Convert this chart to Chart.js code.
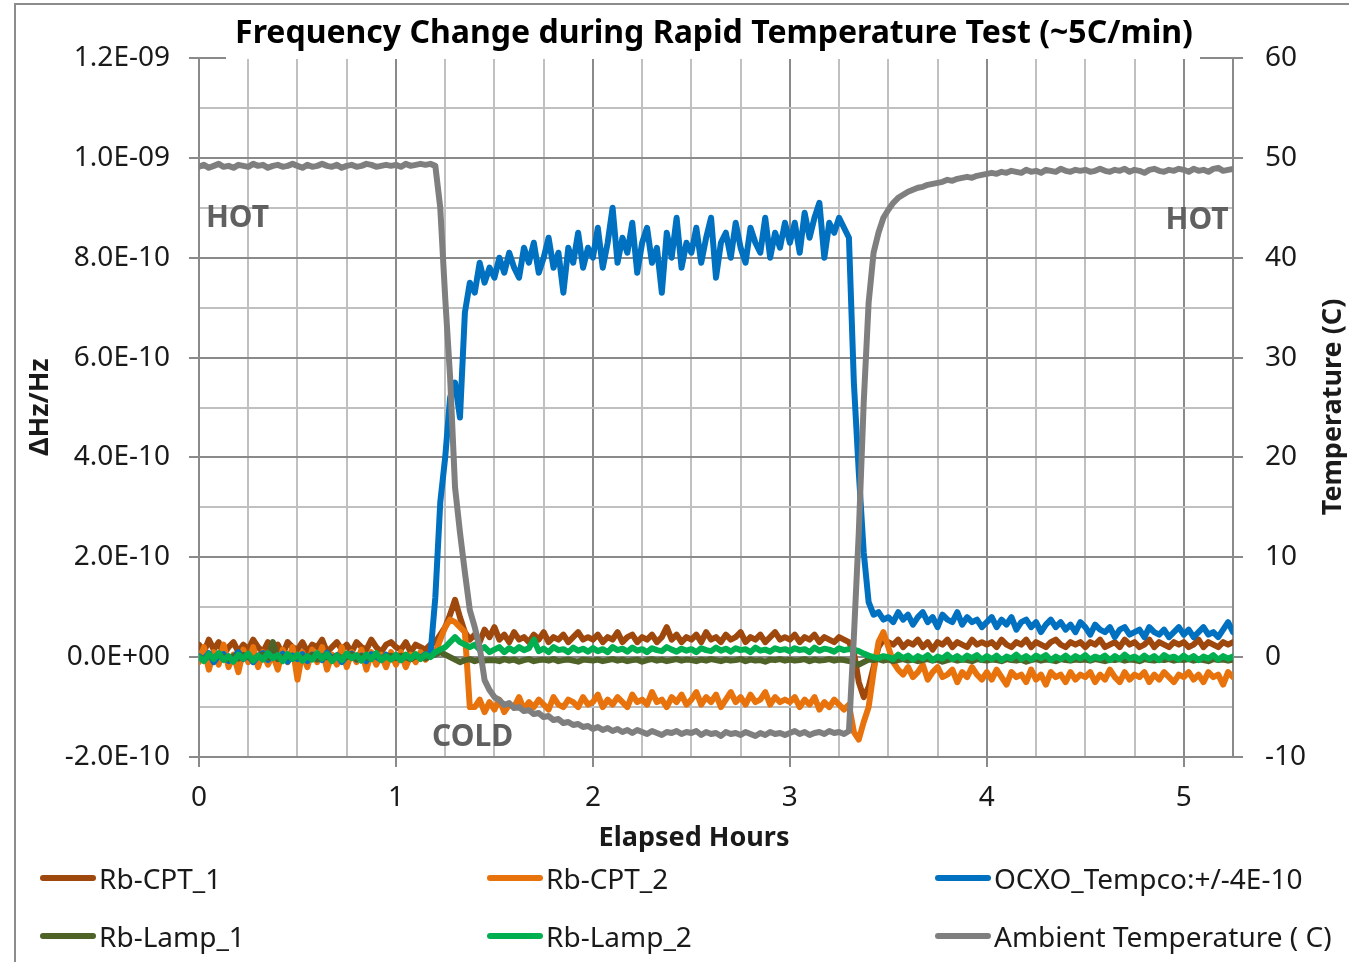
<!DOCTYPE html>
<html>
<head>
<meta charset="utf-8">
<title>Frequency Change during Rapid Temperature Test</title>
<script src="https://cdn.jsdelivr.net/npm/chart.js@4.4.1/dist/chart.umd.min.js"></script>
<style>
    body { margin: 0; background: #fff; }
    #wrap { position: relative; width: 1349px; height: 962px; overflow: hidden; }
    #legend {
        position: absolute; left: 40px; top: 849px;
        display: grid; grid-template-columns: 447px 448px auto;
        font-family: 'Noto Sans', sans-serif; font-size: 28px; color: #1a1a1a;
    }
    .legend-item { display: flex; align-items: center; height: 58px; white-space: nowrap; }
    .legend-line { display: inline-block; width: 56px; height: 6px; border-radius: 3px; margin-right: 3px; }
</style>
</head>
<body>
<div id="wrap">
    <canvas id="chart" width="1349" height="962"></canvas>
    <div id="legend"></div>
</div>
<script>
// elapsed time in hours (one reading every 1.5 min)
const hours = [
    0,0.025,0.05,0.075,0.1,0.125,0.15,0.175,0.2,0.225,0.25,0.275,0.3,0.325,0.35,0.375,0.4,0.425,0.45,0.475,
    0.5,0.525,0.55,0.575,0.6,0.625,0.65,0.675,0.7,0.725,0.75,0.775,0.8,0.825,0.85,0.875,0.9,0.925,0.95,0.975,
    1,1.025,1.05,1.075,1.1,1.125,1.15,1.175,1.2,1.225,1.25,1.275,1.3,1.325,1.35,1.375,1.4,1.425,1.45,1.475,
    1.5,1.525,1.55,1.575,1.6,1.625,1.65,1.675,1.7,1.725,1.75,1.775,1.8,1.825,1.85,1.875,1.9,1.925,1.95,1.975,
    2,2.025,2.05,2.075,2.1,2.125,2.15,2.175,2.2,2.225,2.25,2.275,2.3,2.325,2.35,2.375,2.4,2.425,2.45,2.475,
    2.5,2.525,2.55,2.575,2.6,2.625,2.65,2.675,2.7,2.725,2.75,2.775,2.8,2.825,2.85,2.875,2.9,2.925,2.95,2.975,
    3,3.025,3.05,3.075,3.1,3.125,3.15,3.175,3.2,3.225,3.25,3.275,3.3,3.325,3.35,3.375,3.4,3.425,3.45,3.475,
    3.5,3.525,3.55,3.575,3.6,3.625,3.65,3.675,3.7,3.725,3.75,3.775,3.8,3.825,3.85,3.875,3.9,3.925,3.95,3.975,
    4,4.025,4.05,4.075,4.1,4.125,4.15,4.175,4.2,4.225,4.25,4.275,4.3,4.325,4.35,4.375,4.4,4.425,4.45,4.475,
    4.5,4.525,4.55,4.575,4.6,4.625,4.65,4.675,4.7,4.725,4.75,4.775,4.8,4.825,4.85,4.875,4.9,4.925,4.95,4.975,
    5,5.025,5.05,5.075,5.1,5.125,5.15,5.175,5.2,5.225,5.25
];

// frequency offsets, in units of 1E-10
const rbCpt1 = [
    0.25,0.1,0.35,0.15,0.3,0.05,0.2,0.3,0.1,0.25,0.15,0.35,0.2,0.1,0.3,0.15,0.25,0.05,0.3,0.2,
    0.15,0.3,0.1,0.25,0.2,0.35,0.1,0.2,0.3,0.15,0.25,0.1,0.3,0.2,0.15,0.35,0.2,0.1,0.25,0.3,
    0.2,0.15,0.3,0.1,0.25,0.2,0.15,0.25,0.3,0.45,0.6,0.85,1.15,0.8,0.5,0.35,0.45,0.3,0.55,0.4,
    0.6,0.35,0.45,0.3,0.5,0.35,0.4,0.3,0.45,0.35,0.5,0.3,0.4,0.35,0.45,0.3,0.4,0.5,0.35,0.4,
    0.35,0.45,0.3,0.4,0.35,0.5,0.3,0.4,0.45,0.3,0.4,0.35,0.45,0.3,0.4,0.6,0.35,0.45,0.3,0.4,
    0.35,0.45,0.3,0.5,0.35,0.4,0.3,0.45,0.35,0.4,0.5,0.3,0.4,0.35,0.45,0.3,0.4,0.5,0.35,0.4,
    0.35,0.45,0.3,0.4,0.35,0.45,0.3,0.4,0.35,0.3,0.4,0.35,0.3,0.1,-0.5,-0.8,-0.6,-0.2,0.2,0.35,
    0.3,0.25,0.35,0.2,0.3,0.25,0.35,0.2,0.3,0.15,0.3,0.25,0.35,0.2,0.3,0.25,0.2,0.35,0.25,0.3,
    0.25,0.3,0.2,0.35,0.25,0.2,0.3,0.25,0.35,0.2,0.3,0.25,0.2,0.3,0.35,0.25,0.2,0.3,0.25,0.3,
    0.2,0.3,0.25,0.35,0.2,0.25,0.3,0.2,0.35,0.25,0.3,0.2,0.25,0.35,0.2,0.3,0.25,0.2,0.3,0.25,
    0.3,0.2,0.25,0.35,0.2,0.3,0.25,0.2,0.3,0.25,0.3
];

const rbCpt2 = [
    -0.1,0.2,-0.25,0.1,-0.15,0.25,-0.2,0.05,-0.3,0.15,-0.1,0.2,-0.2,0.1,-0.15,0.05,-0.25,0.15,-0.1,0.2,
    -0.45,0.1,-0.2,0.15,-0.1,0.2,-0.25,0.05,-0.15,0.2,-0.2,0.1,-0.1,0.15,-0.25,0.1,-0.15,0.05,-0.2,0.1,
    -0.15,0.1,-0.2,0.05,-0.1,0.1,-0.05,0.05,0.1,0.35,0.6,0.75,0.7,0.6,0.5,-1.0,-1.0,-0.85,-1.1,-0.9,
    -1.05,-0.85,-1.1,-0.95,-1.0,-0.8,-1.05,-0.9,-1.0,-0.85,-0.95,-1.05,-0.8,-0.95,-1.0,-0.85,-0.9,-1.0,-0.8,-0.95,
    -0.9,-0.75,-1.0,-0.85,-0.95,-0.8,-0.9,-1.0,-0.75,-0.9,-0.85,-0.95,-0.7,-0.9,-0.85,-1.0,-0.8,-0.9,-0.75,-0.95,
    -0.85,-0.7,-0.95,-0.8,-0.9,-0.75,-1.0,-0.85,-0.7,-0.9,-0.8,-0.95,-0.75,-0.9,-0.85,-0.7,-0.95,-0.8,-0.9,-0.85,
    -0.9,-0.8,-1.0,-0.85,-0.95,-0.8,-1.05,-0.9,-1.0,-0.85,-0.95,-1.05,-0.95,-1.5,-1.65,-1.3,-1.0,-0.3,0.3,0.5,
    0.2,-0.1,-0.25,-0.35,-0.2,-0.4,-0.3,-0.15,-0.45,-0.3,-0.2,-0.4,-0.35,-0.25,-0.5,-0.3,-0.4,-0.2,-0.35,-0.45,
    -0.3,-0.45,-0.25,-0.4,-0.55,-0.3,-0.4,-0.35,-0.5,-0.25,-0.45,-0.35,-0.55,-0.3,-0.4,-0.35,-0.5,-0.3,-0.45,-0.35,
    -0.4,-0.3,-0.5,-0.35,-0.45,-0.25,-0.4,-0.5,-0.3,-0.45,-0.35,-0.4,-0.3,-0.5,-0.35,-0.45,-0.3,-0.4,-0.5,-0.35,
    -0.4,-0.3,-0.45,-0.35,-0.5,-0.3,-0.4,-0.35,-0.55,-0.3,-0.4
];

const ocxo = [
    0.02,-0.05,0.08,-0.1,0.03,0.06,-0.08,0.0,0.1,-0.04,0.05,-0.1,0.02,0.08,-0.06,0.04,-0.02,0.07,-0.09,0.03,
    -0.04,0.06,-0.08,0.05,0.0,-0.06,0.09,-0.03,0.04,-0.1,0.02,0.07,-0.05,0.03,-0.08,0.06,0.01,-0.06,0.05,-0.02,
    0.04,-0.06,0.03,-0.04,0.05,-0.02,0.06,0.05,1.2,3.1,4.0,5.2,5.5,4.8,6.9,7.5,7.3,7.9,7.5,7.8,
    7.6,8.0,7.7,8.1,7.8,7.6,8.2,7.9,8.3,7.7,8.0,8.4,7.8,8.1,7.3,8.2,7.9,8.5,7.8,8.2,
    8.0,8.6,7.8,8.3,9.0,7.9,8.4,8.1,8.7,7.7,8.3,8.6,7.9,8.2,7.3,8.5,8.0,8.8,7.8,8.3,
    8.1,8.6,7.9,8.4,8.8,7.6,8.3,8.5,8.0,8.7,8.2,7.9,8.6,8.3,8.1,8.8,8.0,8.5,8.2,8.7,
    8.3,8.7,8.1,8.9,8.4,8.8,9.1,8.0,8.7,8.5,8.8,8.6,8.4,5.5,3.7,2.1,1.1,0.85,0.9,0.75,
    0.8,0.7,0.9,0.75,0.85,0.65,0.8,0.9,0.7,0.8,0.6,0.85,0.75,0.7,0.9,0.65,0.8,0.7,0.75,0.6,
    0.7,0.8,0.6,0.75,0.65,0.8,0.55,0.7,0.75,0.6,0.7,0.5,0.65,0.75,0.6,0.7,0.55,0.65,0.5,0.7,
    0.6,0.45,0.65,0.55,0.5,0.6,0.4,0.55,0.6,0.45,0.5,0.55,0.4,0.6,0.5,0.45,0.55,0.4,0.5,0.6,
    0.45,0.55,0.4,0.5,0.6,0.45,0.5,0.4,0.55,0.7,0.5
];

const rbLamp1 = [
    0.0,-0.05,0.03,-0.02,0.05,0.0,-0.04,0.02,-0.03,0.04,0.0,-0.05,0.02,0.05,-0.02,0.3,-0.04,0.0,0.02,-0.03,
    0.02,-0.03,0.0,0.04,-0.05,0.02,0.0,-0.03,0.03,-0.02,0.0,0.05,-0.04,0.02,0.0,-0.03,0.04,-0.02,0.0,0.03,
    -0.02,0.03,0.0,-0.04,0.02,0.0,-0.03,0.02,0.05,0.1,0.05,0.0,-0.05,-0.1,-0.06,-0.04,-0.08,-0.05,-0.07,-0.06,
    -0.06,-0.08,-0.04,-0.07,-0.05,-0.09,-0.06,-0.04,-0.08,-0.06,-0.05,-0.07,-0.04,-0.08,-0.06,-0.05,-0.07,-0.09,-0.05,-0.06,
    -0.07,-0.05,-0.08,-0.06,-0.04,-0.07,-0.05,-0.08,-0.06,-0.05,-0.09,-0.06,-0.04,-0.07,-0.05,-0.08,-0.06,-0.04,-0.07,-0.05,
    -0.06,-0.08,-0.05,-0.07,-0.04,-0.06,-0.08,-0.05,-0.07,-0.06,-0.04,-0.08,-0.05,-0.07,-0.06,-0.09,-0.05,-0.06,-0.04,-0.07,
    -0.05,-0.07,-0.06,-0.04,-0.08,-0.05,-0.07,-0.06,-0.04,-0.07,-0.05,-0.06,-0.08,-0.1,-0.15,-0.1,-0.05,-0.06,-0.04,-0.07,
    -0.05,-0.08,-0.06,-0.04,-0.07,-0.05,-0.08,-0.06,-0.04,-0.07,-0.05,-0.09,-0.06,-0.04,-0.07,-0.05,-0.06,-0.08,-0.04,-0.06,
    -0.07,-0.05,-0.06,-0.08,-0.04,-0.06,-0.07,-0.05,-0.09,-0.06,-0.04,-0.07,-0.05,-0.06,-0.08,-0.04,-0.06,-0.07,-0.05,-0.06,
    -0.05,-0.07,-0.04,-0.06,-0.08,-0.05,-0.06,-0.04,-0.07,-0.05,-0.06,-0.08,-0.04,-0.06,-0.07,-0.05,-0.06,-0.04,-0.07,-0.05,
    -0.06,-0.04,-0.07,-0.05,-0.06,-0.08,-0.04,-0.06,-0.05,-0.07,-0.05
];

const rbLamp2 = [
    0.0,-0.08,0.06,-0.04,0.08,-0.06,0.02,-0.09,0.05,-0.03,0.07,-0.07,0.03,-0.05,0.08,-0.02,0.04,-0.08,0.06,-0.04,
    0.05,-0.07,0.02,-0.05,0.08,-0.03,0.06,-0.08,0.03,-0.06,0.07,-0.02,0.04,-0.07,0.05,-0.04,0.08,-0.06,0.02,-0.05,
    0.04,-0.06,0.05,-0.03,0.06,-0.04,0.05,0.0,0.1,0.15,0.2,0.3,0.4,0.3,0.25,0.2,0.25,0.15,0.2,0.1,
    0.15,0.2,0.1,0.18,0.12,0.2,0.14,0.18,0.35,0.12,0.17,0.1,0.2,0.14,0.16,0.1,0.19,0.13,0.17,0.11,
    0.18,0.12,0.16,0.1,0.2,0.14,0.17,0.11,0.19,0.13,0.16,0.1,0.18,0.14,0.12,0.2,0.15,0.11,0.17,0.13,
    0.16,0.1,0.18,0.14,0.12,0.19,0.13,0.17,0.11,0.18,0.14,0.16,0.1,0.19,0.13,0.15,0.11,0.18,0.14,0.16,
    0.12,0.18,0.14,0.16,0.1,0.19,0.13,0.17,0.15,0.11,0.18,0.14,0.16,0.15,0.12,0.07,0.03,0.0,-0.02,0.02,
    0.0,-0.04,0.05,-0.02,0.03,-0.05,0.02,-0.03,0.04,-0.06,0.01,-0.03,0.05,-0.04,0.02,-0.05,0.03,-0.02,0.04,-0.05,
    0.02,-0.04,0.03,-0.06,0.01,-0.03,0.05,-0.04,0.02,-0.05,0.03,-0.02,0.04,-0.06,0.01,-0.04,0.03,-0.05,0.02,-0.03,
    0.04,-0.05,0.01,-0.03,0.03,-0.06,0.02,-0.04,0.05,-0.03,0.01,-0.05,0.03,-0.04,0.02,-0.06,0.04,-0.02,0.01,-0.05,
    0.03,-0.04,0.02,-0.06,0.01,-0.03,0.04,-0.05,0.02,-0.03,0.01
];

// ambient temperature, degrees C (right axis)
const ambient = [
    49.1,49.3,49.0,49.2,49.4,49.1,49.2,49.0,49.3,49.2,49.1,49.4,49.2,49.3,49.0,49.2,49.3,49.1,49.2,49.4,
    49.2,49.0,49.3,49.1,49.2,49.4,49.2,49.1,49.3,49.0,49.2,49.3,49.1,49.2,49.4,49.3,49.1,49.2,49.3,49.2,
    49.3,49.1,49.4,49.2,49.3,49.4,49.3,49.4,49.2,45.0,36.0,28.0,17.0,12.5,8.5,4.7,3.0,1.0,-2.3,-3.3,
    -4.0,-4.3,-4.8,-4.6,-5.1,-5.0,-5.4,-5.3,-5.7,-5.6,-6.0,-5.9,-6.3,-6.2,-6.6,-6.5,-6.8,-6.7,-7.0,-6.9,
    -7.2,-7.0,-7.3,-7.1,-7.4,-7.2,-7.5,-7.3,-7.6,-7.3,-7.5,-7.7,-7.4,-7.6,-7.8,-7.5,-7.6,-7.4,-7.7,-7.5,
    -7.6,-7.4,-7.8,-7.5,-7.7,-7.6,-7.9,-7.5,-7.7,-7.6,-7.8,-7.5,-7.7,-7.9,-7.6,-7.8,-7.5,-7.7,-7.6,-7.8,
    -7.6,-7.4,-7.7,-7.5,-7.8,-7.6,-7.5,-7.7,-7.4,-7.6,-7.5,-7.7,-7.4,2.0,12.5,25.5,35.5,40.5,42.5,44.0,
    44.8,45.5,46.0,46.3,46.6,46.8,47.0,47.1,47.3,47.4,47.5,47.6,47.8,47.7,47.9,48.0,48.1,48.0,48.2,48.3,
    48.4,48.5,48.4,48.6,48.5,48.7,48.6,48.5,48.8,48.6,48.7,48.5,48.8,48.7,48.6,48.9,48.7,48.6,48.8,48.7,
    48.8,48.6,48.7,48.9,48.7,48.6,48.8,48.7,48.9,48.6,48.8,48.7,48.5,48.8,48.9,48.7,48.6,48.8,48.7,48.9,
    48.8,48.6,48.9,48.7,48.8,48.6,48.9,49.0,48.7,48.8,48.9
];

const seriesNames = ['Rb-CPT_1', 'Rb-CPT_2', 'OCXO_Tempco:+/-4E-10', 'Rb-Lamp_1', 'Rb-Lamp_2', 'Ambient Temperature ( C)'];
const chartTitle = 'Frequency Change during Rapid Temperature Test (~5C/min)';

const FONT = "'Noto Sans', sans-serif";
const MAJOR = '#8a8a8a';
const MINOR = '#c0c0c0';
const NONE = 'rgba(0,0,0,0)';

// text notes placed in data space (hours, degrees C)
const notes = [
    { text: 'HOT', h: 0.035, t: 43.9, align: 'left' },
    { text: 'HOT', h: 5.228, t: 43.7, align: 'right' },
    { text: 'COLD', h: 1.183, t: -8.0, align: 'left' }
];

function isWhole(v) {
    return Math.abs(v - Math.round(v)) < 1e-6;
}

function sciLabel(v) {
    const s = (v * 1e-10).toExponential(1).toUpperCase();
    return s.replace(/E([+-])(\d+)$/, function(m, sign, exp) {
        return 'E' + sign + (exp.length < 2 ? '0' + exp : exp);
    });
}

function toPoints(values) {
    return hours.map(function(h, i) { return { x: h, y: values[i] }; });
}

function makeDataset(label, values, color, axis, order) {
    return {
        label: label,
        data: toPoints(values),
        borderColor: color,
        backgroundColor: color,
        borderWidth: 6,
        borderCapStyle: 'round',
        borderJoinStyle: 'round',
        pointRadius: 0,
        tension: 0,
        yAxisID: axis,
        order: order
    };
}

const textPlugin = {
    id: 'chartText',
    beforeDraw(chart) {
        const ctx = chart.ctx;
        ctx.save();
        ctx.fillStyle = '#fff';
        ctx.fillRect(0, 0, chart.width, chart.height);
        ctx.strokeStyle = '#8c8c8c';
        ctx.lineWidth = 2;
        ctx.strokeRect(15, 4, chart.width + 20, chart.height + 20);
        ctx.restore();
    },
    afterDraw(chart) {
        const ctx = chart.ctx;
        const xs = chart.scales.x;
        const ts = chart.scales.y2;
        ctx.save();

        // title box sits over the top gridline, as in the original
        ctx.fillStyle = '#fff';
        ctx.fillRect(226, 8, 974, 51);
        ctx.fillStyle = '#000';
        ctx.textAlign = 'center';
        ctx.textBaseline = 'middle';
        ctx.font = 'bold 32px ' + FONT;
        ctx.fillText(chartTitle, 714, 34);

        ctx.fillStyle = '#1a1a1a';
        ctx.font = 'bold 27px ' + FONT;
        ctx.fillText('Elapsed Hours', 694, 838);

        ctx.save();
        ctx.translate(40, 407);
        ctx.rotate(-Math.PI / 2);
        ctx.fillText('ΔHz/Hz', 0, 0);
        ctx.restore();

        ctx.save();
        ctx.translate(1333, 407);
        ctx.rotate(-Math.PI / 2);
        ctx.fillText('Temperature (C)', 0, 0);
        ctx.restore();

        ctx.fillStyle = '#606060';
        ctx.font = 'bold 30px ' + FONT;
        notes.forEach(function(n) {
            ctx.textAlign = n.align;
            ctx.fillText(n.text, xs.getPixelForValue(n.h), ts.getPixelForValue(n.t));
        });
        ctx.restore();
    }
};

const tickFont = { family: FONT, size: 28 };

const chart = new Chart(document.getElementById('chart'), {
    type: 'line',
    data: {
        datasets: [
            makeDataset(seriesNames[0], rbCpt1, '#9E480E', 'y', 5),
            makeDataset(seriesNames[1], rbCpt2, '#E8720C', 'y', 4),
            makeDataset(seriesNames[2], ocxo, '#0070C0', 'y', 3),
            makeDataset(seriesNames[3], rbLamp1, '#4F6228', 'y', 2),
            makeDataset(seriesNames[4], rbLamp2, '#00B050', 'y', 1),
            makeDataset(seriesNames[5], ambient, '#7F7F7F', 'y2', 0)
        ]
    },
    options: {
        responsive: false,
        animation: false,
        events: [],
        layout: { padding: { top: 58, left: 0, right: 0, bottom: 0 } },
        plugins: {
            legend: { display: false },
            title: { display: false },
            tooltip: { enabled: false }
        },
        scales: {
            x: {
                type: 'linear',
                min: 0,
                max: 5.25,
                afterFit: function(s) { s.height = 205; },
                border: { color: MAJOR, width: 2 },
                grid: {
                    lineWidth: 2,
                    tickLength: 10,
                    color: function(c) { return isWhole(c.tick.value) ? MAJOR : MINOR; },
                    tickColor: function(c) { return isWhole(c.tick.value) ? MAJOR : NONE; }
                },
                ticks: {
                    stepSize: 0.25,
                    autoSkip: false,
                    maxRotation: 0,
                    minRotation: 0,
                    padding: 14,
                    color: '#1a1a1a',
                    font: tickFont,
                    callback: function(v) { return isWhole(v) ? String(Math.round(v)) : ''; }
                }
            },
            y: {
                position: 'left',
                min: -2,
                max: 12,
                afterFit: function(s) { s.width = 199; },
                border: { color: MAJOR, width: 2 },
                grid: {
                    lineWidth: 2,
                    tickLength: 10,
                    color: function(c) { return c.tick.value % 2 === 0 ? MAJOR : MINOR; },
                    tickColor: function(c) { return c.tick.value % 2 === 0 ? MAJOR : NONE; }
                },
                ticks: {
                    stepSize: 1,
                    autoSkip: false,
                    padding: 19,
                    color: '#1a1a1a',
                    font: tickFont,
                    callback: function(v) { return v % 2 === 0 ? sciLabel(v) : ''; }
                }
            },
            y2: {
                position: 'right',
                min: -10,
                max: 60,
                afterFit: function(s) { s.width = 116; },
                border: { color: MAJOR, width: 2 },
                grid: { drawOnChartArea: false, lineWidth: 2, tickLength: 10, tickColor: MAJOR },
                ticks: {
                    stepSize: 10,
                    autoSkip: false,
                    padding: 22,
                    color: '#1a1a1a',
                    font: tickFont
                }
            }
        }
    },
    plugins: [textPlugin]
});

function buildLegend(chart) {
    let html = '';
    chart.data.datasets.forEach(function(ds) {
        html += `<div class="legend-item"><span class="legend-line" style="background:${ds.borderColor}"></span>${ds.label}</div>`;
    });
    document.getElementById('legend').innerHTML = html;
}

buildLegend(chart);
</script>
</body>
</html>
